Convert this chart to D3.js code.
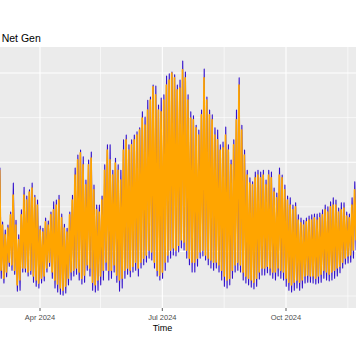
<!DOCTYPE html>
<html><head><meta charset="utf-8">
<script src="https://cdn.jsdelivr.net/npm/d3@7"></script>
<style>html,body{margin:0;padding:0;background:#fff;overflow:hidden}</style>
</head><body>
<svg id="c" width="356" height="364"></svg>
<script>
const title = "Net Gen";
const xTitle = "Time";
const startDate = "2024-03-01";
const stepDays = 2;
const xTickDates = ["2024-04-01", "2024-07-01", "2024-10-01"];
const xTickLabels = ["Apr 2024", "Jul 2024", "Oct 2024"];
const xMinorDates = ["2024-02-15", "2024-05-16", "2024-08-16", "2024-11-16"];
const yTicks = [20, 30, 40, 50, 60, 70];

const orangeHigh = [48.2,35.9,33.7,35.2,38.2,42.6,35.9,32.6,38.2,42.6,
41.5,43.3,44.2,42.0,40.4,34.8,34.3,36.6,35.9,38.2,
39.3,40.4,41.5,37.5,35.2,34.3,38.2,41.5,47.1,50.5,
52.1,49.4,44.9,49.4,50.9,43.8,39.3,38.8,41.5,48.2,
52.7,50.5,47.1,49.8,48.2,46.0,52.7,55.0,52.7,53.9,
55.0,56.1,57.2,59.9,58.3,61.7,63.9,66.9,65.1,61.7,
61.3,63.9,67.3,68.4,70.0,68.9,66.2,66.6,70.7,68.9,
63.9,59.9,59.5,57.7,56.1,60.6,68.9,63.9,60.6,59.5,
56.1,55.0,52.7,53.2,56.1,52.7,49.4,53.9,59.5,67.3,
57.2,51.6,47.1,45.3,44.9,46.5,47.1,46.5,47.1,44.9,
47.1,46.5,43.3,42.0,47.1,46.5,43.8,41.5,40.4,39.3,
40.0,37.0,36.4,35.9,36.6,37.0,37.0,37.5,37.0,37.5,
38.2,39.3,38.8,40.0,40.4,40.4,38.8,39.3,39.7,37.9,
37.5,40.4,43.8,46.0,47.1];
const orangeLow = [28.5,25.8,24.0,25.4,27.6,27.0,25.8,22.5,23.6,26.3,
26.3,25.4,25.8,24.5,23.6,22.9,24.0,24.5,26.3,27.6,
25.4,23.6,22.7,21.8,21.3,22.2,24.0,25.4,25.8,26.3,
25.4,24.0,24.7,27.0,26.3,23.1,22.5,23.6,24.5,25.8,
27.6,25.8,25.8,27.0,24.7,23.6,24.0,25.8,26.3,25.8,
26.7,27.6,26.3,27.6,28.5,29.2,30.3,29.9,27.6,25.8,
24.7,25.4,27.6,29.2,30.3,30.8,30.3,31.4,32.6,32.1,
30.3,28.5,27.6,27.6,28.5,29.9,30.3,29.2,28.5,28.1,
27.6,27.6,27.0,25.8,24.5,23.6,24.0,25.8,27.0,27.6,
27.0,25.4,24.5,24.0,23.6,23.1,24.0,25.4,26.3,26.3,
26.7,26.3,25.4,25.4,26.3,25.8,25.4,24.0,23.1,22.5,
23.1,23.6,23.1,23.6,24.5,24.7,24.5,24.5,24.0,24.5,
24.9,25.8,25.4,24.9,25.4,25.8,26.3,26.7,27.6,28.5,
29.0,29.2,30.3,32.6,33.0];
const blueHigh = [48.7,36.6,34.8,35.9,38.8,45.3,37.0,33.7,39.3,44.4,
42.4,43.8,45.3,42.6,41.5,35.7,35.2,37.5,36.8,38.8,
41.1,41.5,42.6,38.4,36.1,35.2,38.8,42.6,48.7,51.6,
52.7,51.2,46.0,50.5,52.3,44.9,40.4,40.4,42.4,49.4,
53.9,53.9,48.2,50.9,49.4,48.2,55.0,56.1,53.9,55.0,
56.1,56.8,57.7,61.3,60.1,63.9,64.6,67.3,67.1,62.8,
64.4,65.1,69.3,69.8,70.2,69.6,67.3,68.4,72.7,70.2,
65.1,61.3,60.4,58.3,57.2,61.7,70.9,64.6,61.7,60.6,
57.7,57.2,53.9,54.5,57.9,53.9,50.5,55.0,61.7,68.9,
58.3,52.7,48.2,46.5,45.6,47.8,48.2,47.8,48.2,46.0,
48.2,47.8,44.2,43.1,48.7,47.1,44.9,42.4,42.0,40.4,
40.9,38.2,37.5,37.0,37.5,37.9,38.2,38.4,38.4,38.6,
39.3,40.4,40.0,41.1,42.0,41.5,39.7,40.9,40.9,38.8,
38.4,42.0,45.6,47.1,48.2];
const blueLow = [27.6,24.0,22.9,24.3,26.7,25.8,24.9,21.1,21.3,25.4,
25.4,24.5,24.9,23.1,22.2,21.8,22.9,23.4,25.4,26.7,
24.0,21.8,20.9,20.4,20.2,20.7,22.5,23.6,24.5,24.9,
23.6,22.7,23.1,25.8,24.5,21.3,20.9,21.3,22.5,23.6,
25.8,23.6,24.0,25.4,23.1,21.1,21.8,24.0,24.9,24.3,
25.4,25.8,24.5,26.3,27.0,27.6,28.5,28.1,26.3,24.5,
23.6,24.0,25.8,27.6,28.5,29.2,29.0,29.9,30.8,30.3,
28.5,27.0,25.4,25.4,26.7,28.5,29.0,28.1,27.0,26.3,
25.8,26.3,25.4,23.6,22.2,21.8,22.5,24.0,25.4,25.8,
25.4,23.6,22.9,22.5,22.0,21.6,22.2,23.8,24.7,24.7,
25.2,24.7,24.0,23.6,24.5,24.0,23.6,22.2,21.3,20.9,
21.3,21.8,21.3,21.8,22.9,23.1,23.1,22.9,22.7,22.9,
23.1,24.0,23.6,23.4,23.6,24.0,24.5,25.2,26.3,27.2,
27.4,27.6,28.5,30.3,30.8];

const svg = d3.select("#c");
const panel = {top: 47, bottom: 308, left: -10, right: 366};
const parse = d3.utcParse("%Y-%m-%d");

const x = d3.scaleUtc()
  .domain([parse(xTickDates[0]), parse(xTickDates[2])])
  .range([40, 286]);
const y = d3.scaleLinear().domain([20, 70]).range([296, 73]);

svg.append("rect").attr("x", panel.left).attr("y", panel.top)
  .attr("width", panel.right - panel.left).attr("height", panel.bottom - panel.top)
  .attr("fill", "#EBEBEB");

svg.append("defs").append("clipPath").attr("id", "clip")
  .append("rect").attr("x", panel.left).attr("y", panel.top)
  .attr("width", panel.right - panel.left).attr("height", panel.bottom - panel.top);

const grid = svg.append("g");
grid.selectAll("line.vmin").data(xMinorDates).join("line")
  .attr("x1", d => x(parse(d))).attr("x2", d => x(parse(d)))
  .attr("y1", panel.top).attr("y2", panel.bottom)
  .attr("stroke", "#fff").attr("stroke-width", 0.6);
grid.selectAll("line.h").data(yTicks).join("line")
  .attr("x1", panel.left).attr("x2", panel.right)
  .attr("y1", d => y(d)).attr("y2", d => y(d))
  .attr("stroke", "#fff").attr("stroke-width", d => (d % 20 === 10 ? 1.1 : 0.6));
grid.selectAll("line.vmaj").data(xTickDates).join("line")
  .attr("x1", d => x(parse(d))).attr("x2", d => x(parse(d)))
  .attr("y1", panel.top).attr("y2", panel.bottom)
  .attr("stroke", "#fff").attr("stroke-width", 1.1);

const start = parse(startDate);
function zig(lows, highs, phase) {
  const pts = [];
  lows.forEach((lo, i) => {
    const d0 = d3.utcHour.offset(start, Math.round((i * stepDays + phase) * 24));
    const d1 = d3.utcHour.offset(start, Math.round((i * stepDays + phase + 1) * 24));
    pts.push([x(d0), y(lo)]);
    pts.push([x(d1), y(highs[i])]);
  });
  return d3.line()(pts);
}

const plot = svg.append("g").attr("clip-path", "url(#clip)");
plot.append("path").attr("d", zig(blueLow, blueHigh, 0.15))
  .attr("fill", "none").attr("stroke", "#3311cc").attr("stroke-width", 1.1)
  .attr("stroke-linejoin", "round");
plot.append("path").attr("d", zig(orangeLow, orangeHigh, 0))
  .attr("fill", "none").attr("stroke", "#FFA500").attr("stroke-width", 1.7)
  .attr("stroke-linejoin", "round");

const xa = svg.append("g");
xa.selectAll("line").data(xTickDates).join("line")
  .attr("x1", d => x(parse(d))).attr("x2", d => x(parse(d)))
  .attr("y1", panel.bottom).attr("y2", panel.bottom + 3)
  .attr("stroke", "#333").attr("stroke-width", 0.8);
xa.selectAll("text").data(xTickDates).join("text")
  .attr("x", d => x(parse(d))).attr("y", 319.5)
  .attr("text-anchor", "middle")
  .attr("font-family", "Liberation Sans, Arial, sans-serif")
  .attr("font-size", 7.5).attr("fill", "#4D4D4D")
  .text((d, i) => xTickLabels[i]);

svg.append("text").attr("x", 162.5).attr("y", 331)
  .attr("text-anchor", "middle")
  .attr("font-family", "Liberation Sans, Arial, sans-serif")
  .attr("font-size", 9).attr("fill", "#000").text(xTitle);

svg.append("text").attr("x", 1.7).attr("y", 41.5)
  .attr("font-family", "Liberation Sans, Arial, sans-serif")
  .attr("font-size", 10.5).attr("fill", "#000").text(title);
</script>
</body></html>
